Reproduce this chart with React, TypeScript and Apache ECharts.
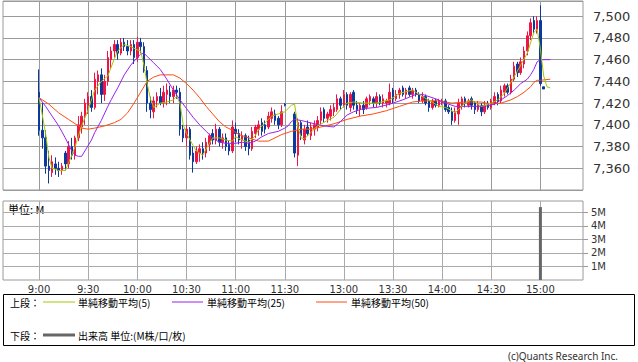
import React, { useEffect, useRef } from "react";
import * as echarts from "echarts";

// slot = 2-minute step from 9:00; 76,77 = lunch gap; 153 = 15:00
const PRE = 11;
const TOTAL = 178;

const timeLabels = ["9:00", "9:30", "10:00", "10:30", "11:00", "11:30", "13:00", "13:30", "14:00", "14:30", "15:00"];
const timeSlots = [0, 15, 30, 45, 60, 75, 93, 108, 123, 138, 153];

const priceTicks = [7360, 7380, 7400, 7420, 7440, 7460, 7480, 7500];
const volumeTicks = [1, 2, 3, 4, 5];

const opens = [
  7430, 7395, 7388, 7362, 7356, 7364, 7360, 7358, 7374, 7364, 7380, 7372, 7388, 7398, 7408, 7418, 7426, 7416, 7440, 7446,
  7428, 7440, 7460, 7468, 7474, 7466, 7476, 7472, 7468, 7474, 7462, 7476, 7472, 7450, 7420, 7412, 7422, 7426, 7420, 7428,
  7430, 7426, 7432, 7430, 7396, 7388, 7396, 7374, 7366, 7374, 7378, 7374, 7382, 7392, 7386, 7396, 7384, 7388, 7382, 7376,
  7396, 7392, 7386, 7390, 7386, 7378, 7392, 7396, 7402, 7400, 7398, 7406, 7410, 7406, 7400, 7419, null, null, 7410, 7372,
  7402, 7386, 7398, 7390, 7396, 7398, 7404, 7414, 7406, 7408, 7412, 7414, 7424, 7418, 7428, 7416, 7430, 7418, 7414, 7418,
  7416, 7422, 7424, 7420, 7426, 7420, 7420, 7420, 7432, 7424, 7428, 7434, 7428, 7434, 7428, 7432, 7428, 7422, 7426, 7422,
  7416, 7422, 7418, 7420, 7422, 7416, 7412, 7404, 7410, 7418, 7424, 7418, 7424, 7420, 7414, 7418, 7412, 7420, 7416, 7420,
  7428, 7422, 7430, 7436, 7430, 7442, 7456, 7448, 7456, 7468, 7482, 7496, 7488, 7496, 7435,
];
const closes = [
  7395, 7388, 7362, 7358, 7366, 7360, 7358, 7362, 7364, 7380, 7372, 7388, 7400, 7408, 7420, 7426, 7416, 7442, 7446, 7428,
  7440, 7462, 7468, 7474, 7466, 7476, 7472, 7468, 7474, 7462, 7476, 7472, 7450, 7420, 7414, 7422, 7426, 7420, 7430, 7432,
  7426, 7432, 7430, 7396, 7388, 7396, 7372, 7366, 7376, 7378, 7374, 7384, 7390, 7386, 7396, 7384, 7388, 7380, 7376, 7398,
  7392, 7386, 7390, 7380, 7378, 7394, 7398, 7400, 7394, 7396, 7408, 7412, 7404, 7400, 7412, 7418, null, null, 7374, 7402,
  7390, 7396, 7392, 7398, 7400, 7404, 7412, 7406, 7410, 7414, 7416, 7424, 7418, 7428, 7418, 7428, 7418, 7414, 7418, 7414,
  7424, 7426, 7420, 7426, 7420, 7424, 7422, 7430, 7424, 7428, 7432, 7428, 7432, 7428, 7432, 7428, 7422, 7426, 7420, 7416,
  7422, 7418, 7422, 7422, 7414, 7412, 7404, 7412, 7420, 7424, 7420, 7422, 7418, 7414, 7418, 7412, 7418, 7416, 7422, 7426,
  7422, 7432, 7436, 7430, 7442, 7454, 7448, 7458, 7468, 7482, 7494, 7488, 7496, 7438, 7433,
];
const lows = [
  7390, 7378, 7355, 7346, 7352, 7354, 7352, 7354, 7358, 7360, 7368, 7368, 7385, 7392, 7400, 7410, 7412, 7414, 7428, 7420,
  7422, 7436, 7452, 7462, 7460, 7464, 7468, 7464, 7464, 7456, 7458, 7466, 7448, 7412, 7406, 7406, 7416, 7418, 7416, 7418,
  7420, 7420, 7424, 7390, 7384, 7380, 7368, 7356, 7364, 7366, 7368, 7370, 7376, 7382, 7382, 7380, 7378, 7376, 7372, 7374,
  7384, 7382, 7378, 7376, 7372, 7376, 7388, 7390, 7390, 7392, 7396, 7402, 7400, 7396, 7398, 7417, null, null, 7370, 7362,
  7386, 7382, 7390, 7386, 7390, 7394, 7400, 7402, 7402, 7404, 7408, 7412, 7414, 7416, 7414, 7412, 7414, 7410, 7408, 7410,
  7414, 7418, 7416, 7416, 7418, 7416, 7416, 7418, 7420, 7422, 7424, 7426, 7424, 7426, 7424, 7426, 7420, 7420, 7418, 7412,
  7414, 7416, 7416, 7418, 7412, 7410, 7400, 7402, 7400, 7414, 7416, 7416, 7414, 7410, 7412, 7408, 7410, 7414, 7414, 7418,
  7418, 7420, 7426, 7428, 7428, 7440, 7444, 7446, 7452, 7464, 7478, 7484, 7484, 7436, 7433,
];
const highs = [
  7451, 7420, 7395, 7376, 7372, 7370, 7366, 7365, 7376, 7385, 7388, 7390, 7408, 7412, 7424, 7430, 7432, 7448, 7450, 7452,
  7446, 7468, 7472, 7478, 7478, 7480, 7480, 7478, 7478, 7478, 7481, 7480, 7476, 7454, 7426, 7426, 7430, 7434, 7436, 7438,
  7436, 7436, 7436, 7434, 7400, 7400, 7398, 7380, 7380, 7382, 7384, 7388, 7392, 7396, 7401, 7398, 7392, 7392, 7386, 7404,
  7402, 7396, 7394, 7392, 7390, 7398, 7400, 7404, 7406, 7404, 7412, 7416, 7414, 7408, 7418, 7420, null, null, 7412, 7406,
  7404, 7400, 7404, 7402, 7404, 7408, 7416, 7416, 7412, 7418, 7420, 7428, 7426, 7432, 7430, 7430, 7432, 7422, 7420, 7422,
  7426, 7428, 7426, 7430, 7428, 7428, 7424, 7438, 7434, 7432, 7434, 7436, 7434, 7436, 7434, 7434, 7430, 7430, 7428, 7424,
  7424, 7424, 7424, 7424, 7424, 7418, 7416, 7416, 7424, 7426, 7426, 7424, 7426, 7422, 7422, 7420, 7422, 7422, 7424, 7430,
  7430, 7436, 7438, 7438, 7446, 7458, 7458, 7462, 7472, 7486, 7498, 7500, 7500, 7510, 7435,
];

const volumeSlots = [153];
const volumeValues = [5.4];

const ma5 = [
  [0, 7425], [1, 7409], [2, 7392], [3, 7370], [4, 7360], [6, 7358], [8, 7358], [9, 7365], [10, 7372], [11, 7380],
  [13, 7399], [15, 7414], [17, 7432], [19, 7440], [21, 7445], [23, 7461], [24, 7468], [26, 7474], [28, 7472], [30, 7469],
  [31, 7468], [32, 7455], [33, 7438], [34, 7424], [35, 7416], [37, 7420], [39, 7421], [41, 7423], [42, 7426], [43, 7420],
  [44, 7400], [45, 7392], [47, 7381], [48, 7376], [50, 7372], [51, 7378], [53, 7388], [55, 7388], [57, 7386], [59, 7385],
  [60, 7389], [62, 7386], [64, 7384], [66, 7390], [67, 7396], [69, 7402], [71, 7408], [73, 7410], [75, 7412], [77, 7418],
  [78, 7419], [79, 7398], [80, 7388], [81, 7387], [83, 7393], [85, 7399], [88, 7404], [90, 7407], [92, 7414], [94, 7420],
  [96, 7421], [99, 7420], [103, 7420], [107, 7423], [110, 7429], [114, 7432], [117, 7426], [120, 7421], [122, 7417], [124, 7416],
  [126, 7413], [127, 7411], [130, 7420], [132, 7423], [135, 7417], [138, 7420], [140, 7423], [142, 7429], [144, 7439], [147, 7455],
  [149, 7466], [151, 7485], [152, 7488], [153, 7470], [154, 7445], [155, 7435], [156, 7434],
];
const ma25 = [
  [0, 7425], [2, 7417], [4, 7408], [6, 7399], [8, 7388], [10, 7376], [11, 7372], [12, 7371], [13, 7371], [14, 7376],
  [16, 7386], [17, 7393], [19, 7404], [21, 7417], [22, 7423], [24, 7434], [26, 7446], [28, 7455], [30, 7462], [31, 7465],
  [32, 7466], [33, 7463], [35, 7457], [37, 7451], [39, 7442], [41, 7432], [43, 7423], [45, 7415], [47, 7407], [49, 7400],
  [51, 7394], [53, 7388], [55, 7384], [57, 7383], [60, 7383], [62, 7384], [64, 7383], [66, 7385], [68, 7389], [70, 7392],
  [73, 7394], [75, 7397], [76, 7399], [77, 7403], [78, 7405], [80, 7404], [84, 7401], [87, 7399], [90, 7398], [92, 7403],
  [94, 7409], [96, 7412], [99, 7415], [103, 7416], [107, 7419], [111, 7423], [115, 7428], [117, 7428], [119, 7426], [121, 7424],
  [124, 7420], [127, 7417], [130, 7417], [136, 7417], [139, 7419], [141, 7423], [143, 7427], [145, 7432], [147, 7438], [149, 7442],
  [150, 7446], [151, 7451], [152, 7458], [153, 7460], [156, 7460],
];
const ma50 = [
  [0, 7425], [3, 7419], [6, 7411], [9, 7405], [11, 7401], [13, 7397], [15, 7396], [17, 7397], [20, 7399], [23, 7402],
  [25, 7405], [27, 7411], [29, 7420], [31, 7430], [32, 7435], [33, 7440], [35, 7444], [37, 7446], [41, 7446], [43, 7443],
  [45, 7438], [47, 7432], [49, 7425], [51, 7417], [53, 7410], [55, 7403], [57, 7398], [59, 7395], [61, 7391], [63, 7389],
  [65, 7387], [67, 7385], [70, 7385], [72, 7388], [74, 7391], [77, 7394], [80, 7396], [83, 7396], [86, 7398], [90, 7401],
  [94, 7405], [98, 7408], [102, 7410], [106, 7413], [110, 7417], [114, 7421], [117, 7422], [122, 7422], [126, 7420], [130, 7421],
  [135, 7421], [138, 7419], [141, 7420], [144, 7423], [146, 7426], [148, 7430], [150, 7435], [151, 7439], [152, 7441], [153, 7441],
  [156, 7442],
];

const UP = "#ee1546";
const DOWN = "#0b3a9c";
const GRID = "#9a9a9a";

export default function App() {
  const ref = useRef<HTMLDivElement>(null);

  useEffect(() => {
    if (!ref.current) return;
    const chart = echarts.init(ref.current, undefined, { renderer: "svg" });

    const cats = Array.from({ length: TOTAL }, (_, k) => String(k - PRE));
    const labelAt: Record<number, string> = {};
    timeSlots.forEach((s, i) => (labelAt[s + PRE] = timeLabels[i]));
    const isLabel = (idx: number) => labelAt[idx] !== undefined;

    const candles = cats.map((_, k) => {
      const s = k - PRE;
      if (s < 0 || s >= opens.length || opens[s] == null) return "-";
      return [opens[s], closes[s], lows[s], highs[s]];
    });
    const vols = cats.map((_, k) => {
      const j = volumeSlots.indexOf(k - PRE);
      return j >= 0 ? volumeValues[j] : "-";
    });
    const toPairs = (arr: number[][]) => arr.map(([s, v]) => [s + PRE, v]);

    const jpFont = "'Noto Sans CJK JP', 'Noto Sans', sans-serif";

    const baseX = {
      type: "category",
      data: cats,
      boundaryGap: false,
      axisLine: { show: false },
      axisTick: { show: false },
      splitLine: { show: true, interval: (i: number) => isLabel(i), lineStyle: { color: GRID, width: 1 } },
    };

    const legendY1 = 302;
    const legendY2 = 335;

    chart.setOption({
      animation: false,
      backgroundColor: "#ffffff",
      grid: [
        { left: 3, top: 1, width: 580, height: 189, show: true, borderColor: GRID, borderWidth: 1 },
        { left: 3, top: 201, width: 580, height: 79, show: true, borderColor: GRID, borderWidth: 1 },
      ],
      xAxis: [
        { ...baseX, gridIndex: 0, axisLabel: { show: false } },
        {
          ...baseX,
          gridIndex: 1,
          splitLine: { show: true, interval: (i: number) => isLabel(i), lineStyle: { color: "#aaaaaa", width: 1 } },
          axisLabel: {
            show: true,
            interval: (i: number) => isLabel(i),
            formatter: (_v: string, i: number) => labelAt[i] || "",
            fontSize: 10,
            fontFamily: "'DejaVu Sans', sans-serif",
            color: "#333",
            margin: 4,
          },
        },
      ],
      yAxis: [
        {
          type: "value",
          gridIndex: 0,
          position: "right",
          min: 7340,
          max: 7514,
          interval: 20,
          axisLine: { show: false },
          axisTick: { show: false },
          axisLabel: {
            formatter: (v: number) => (priceTicks.includes(v) ? v.toLocaleString("en-US") : ""),
            fontSize: 13,
            fontFamily: "'DejaVu Sans', sans-serif",
            color: "#333",
            margin: 10,
          },
          splitLine: { lineStyle: { color: GRID, width: 1 } },
        },
        {
          type: "value",
          gridIndex: 1,
          position: "right",
          min: 0,
          max: 5.85,
          interval: 1,
          axisLine: { show: false },
          axisTick: { show: true, length: 5, customValues: volumeTicks, lineStyle: { color: GRID } },
          axisLabel: {
            formatter: (v: number) => (volumeTicks.includes(v) ? v + "M" : ""),
            fontSize: 10,
            fontFamily: "'DejaVu Sans', sans-serif",
            color: "#333",
            margin: 8,
          },
          splitLine: { lineStyle: { color: "#aaaaaa", width: 1 } },
        },
      ],
      series: [
        {
          type: "candlestick",
          xAxisIndex: 0,
          yAxisIndex: 0,
          data: candles,
          barWidth: 2,
          itemStyle: { color: UP, color0: DOWN, borderColor: UP, borderColor0: DOWN, borderWidth: 1 },
          z: 2,
        },
        {
          type: "line",
          xAxisIndex: 0,
          yAxisIndex: 0,
          data: toPairs(ma50),
          showSymbol: false,
          lineStyle: { color: "#ff4a10", width: 1 },
          z: 3,
        },
        {
          type: "line",
          xAxisIndex: 0,
          yAxisIndex: 0,
          data: toPairs(ma25),
          showSymbol: false,
          lineStyle: { color: "#9b20f0", width: 1 },
          z: 4,
        },
        {
          type: "line",
          xAxisIndex: 0,
          yAxisIndex: 0,
          data: toPairs(ma5),
          showSymbol: false,
          lineStyle: { color: "#a2c800", width: 1 },
          z: 5,
        },
        {
          type: "bar",
          xAxisIndex: 1,
          yAxisIndex: 1,
          data: vols,
          barWidth: 3,
          itemStyle: { color: "#666666" },
        },
      ],
      graphic: [
        { type: "text", x: 8, y: 209, style: { text: "単位: M", fill: "#000", fontSize: 11, fontFamily: jpFont, verticalAlign: "middle" } },
        { type: "rect", shape: { x: 3.5, y: 294.5, width: 631, height: 51 }, style: { fill: "none", stroke: "#000", lineWidth: 1 } },
        { type: "text", x: 10, y: legendY1, style: { text: "上段：", fill: "#000", fontSize: 10, fontFamily: jpFont, verticalAlign: "middle" } },
        { type: "line", shape: { x1: 43, y1: legendY1, x2: 75, y2: legendY1 }, style: { stroke: "#a2c800", lineWidth: 1 } },
        { type: "text", x: 78, y: legendY1, style: { text: "単純移動平均(5)", fill: "#000", fontSize: 10, fontFamily: jpFont, verticalAlign: "middle" } },
        { type: "line", shape: { x1: 172, y1: legendY1, x2: 203, y2: legendY1 }, style: { stroke: "#9b20f0", lineWidth: 1 } },
        { type: "text", x: 207, y: legendY1, style: { text: "単純移動平均(25)", fill: "#000", fontSize: 10, fontFamily: jpFont, verticalAlign: "middle" } },
        { type: "line", shape: { x1: 316, y1: legendY1, x2: 347, y2: legendY1 }, style: { stroke: "#ff4a10", lineWidth: 1 } },
        { type: "text", x: 351, y: legendY1, style: { text: "単純移動平均(50)", fill: "#000", fontSize: 10, fontFamily: jpFont, verticalAlign: "middle" } },
        { type: "text", x: 10, y: legendY2, style: { text: "下段：", fill: "#000", fontSize: 10, fontFamily: jpFont, verticalAlign: "middle" } },
        { type: "line", shape: { x1: 43, y1: legendY2, x2: 75, y2: legendY2 }, style: { stroke: "#666666", lineWidth: 3 } },
        { type: "text", x: 78, y: legendY2, style: { text: "出来高 単位:(M株/口/枚)", fill: "#000", fontSize: 10, fontFamily: jpFont, verticalAlign: "middle" } },
        { type: "text", x: 618, y: 356, style: { text: "(c)Quants Research Inc.", fill: "#333", fontSize: 10, fontFamily: "'Noto Sans', sans-serif", align: "right", verticalAlign: "middle" } },
      ],
    });

    return () => chart.dispose();
  }, []);

  return <div ref={ref} style={{ position: "fixed", left: 0, top: 0, width: 638, height: 362, background: "#fff" }} />;
}
